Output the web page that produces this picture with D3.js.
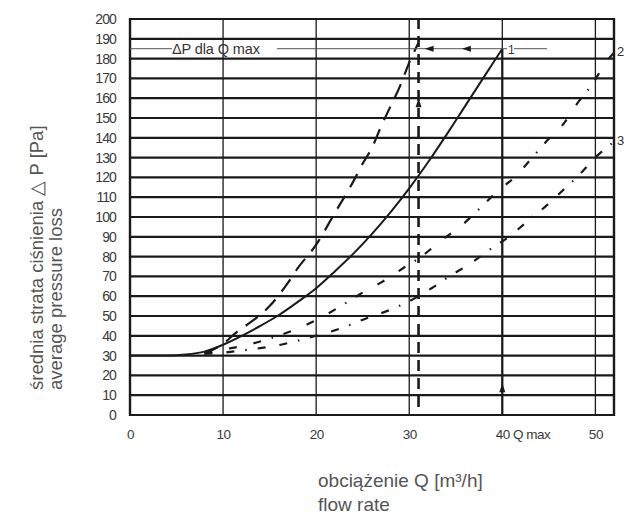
<!DOCTYPE html>
<html><head><meta charset="utf-8">
<script src="https://cdn.jsdelivr.net/npm/d3@7/dist/d3.min.js"></script>
<style>
body{margin:0;background:#fff;}
svg{display:block;font-family:"Liberation Sans",Arial,sans-serif;}
</style></head>
<body>
<svg id="c" width="637" height="518"></svg>
<script>
// ---- data ----
const xTicks = [0, 10, 20, 30, 40, 50];
const xTickLabels = ["0", "10", "20", "30", "40 Q max", "50"];
const yTicks = [0,10,20,30,40,50,60,70,80,90,100,110,120,130,140,150,160,170,180,190,200];

// curve 1 (solid)
const c1Q = [0,2,4,6,8,10,12,14,16,18,20,22,24,26,28,30,32,34,36,38,40];
const c1P = [30,30,30,30.5,32,35.5,40,45,50.5,57,64,72.5,81.5,91.5,102.5,114.5,127.5,141.5,156,170.5,185];
// steep dashed curve
const c2Q = [8,10,11.5,13,15,17,18,20,22,24,25,26,27,28,29,30,31];
const c2P = [31,36,42,47,55,67,74,86,102,118,127,135,146,156,166,178,188];
// dash-dot curve "2"
const cAQ = [8,10,12.7,15.3,18.2,20,22.3,24.7,27,29.3,31.3,33.4,35.7,37.5,39.5,41.3,43.4,44.9,46.4,48,49.8,51.1,52];
const cAP = [31,33,35.5,39,44,48,54,61,67,74,80,88,96,104,113,120,131,139,146,157,168,178,183];
// dash-dot curve "3"
const cBQ = [8,10,12.7,15.7,18.4,20,22.8,25.5,27.9,29.8,32.4,34.3,36.4,38.8,40.7,42.5,44.8,46.4,48.2,50.2,52];
const cBP = [31,31.5,33,35,38,40,44,49,53,57,64,70,76,84,90,97,106,113,121,131,138];

const qMaxQ = 40, qMaxP = 185;   // Q max marker
const qDashQ = 31;               // dashed vertical
const dpLabel = "ΔP dla Q max";

// ---- layout ----
const svg = d3.select("#c");
const x = d3.scaleLinear().domain([0, 52]).range([130, 614]);
const y = d3.scaleLinear().domain([0, 200]).range([415, 19]);
const ink = "#1a1a1a";

// grid
const g = svg.append("g");
g.selectAll("line.h").data(yTicks).join("line")
  .attr("x1", x(0)).attr("x2", x(52))
  .attr("y1", d => y(d)).attr("y2", d => y(d))
  .attr("stroke", ink).attr("stroke-width", 2.2);
g.selectAll("line.v").data(xTicks.filter(d => d > 0)).join("line")
  .attr("x1", d => x(d)).attr("x2", d => x(d))
  .attr("y1", y(0)).attr("y2", y(200))
  .attr("stroke", ink).attr("stroke-width", 1.3);
// frame
g.append("line").attr("x1", x(0)).attr("x2", x(0)).attr("y1", y(0)+1).attr("y2", y(200)-1)
  .attr("stroke", ink).attr("stroke-width", 2.4);
g.append("line").attr("x1", x(52)).attr("x2", x(52)).attr("y1", y(0)+1).attr("y2", y(200)-1)
  .attr("stroke", ink).attr("stroke-width", 2.4);

// axes (labels only)
const yAxis = d3.axisLeft(y).tickValues(yTicks).tickSize(0).tickPadding(14);
const ya = svg.append("g").attr("transform", `translate(${x(0)},0)`).call(yAxis);
ya.select(".domain").remove();
ya.selectAll("text").attr("font-size", 14).attr("fill", "#3a3a3a").attr("letter-spacing", "-0.9")
  .attr("font-family", "'Liberation Sans',Arial,sans-serif");

const xAxis = d3.axisBottom(x).tickValues(xTicks).tickSize(0).tickPadding(14)
  .tickFormat((d, i) => xTickLabels[i]);
const xa = svg.append("g").attr("transform", `translate(0,${y(0)})`).call(xAxis);
xa.select(".domain").remove();
xa.selectAll("text").attr("font-size", 13.5).attr("fill", "#3a3a3a").attr("letter-spacing", "-0.5")
  .attr("font-family", "'Liberation Sans',Arial,sans-serif")
  .filter((d) => d === 40).attr("text-anchor", "start").attr("dx", -7);

// curves
const line = d3.line().x(d => x(d[0])).y(d => y(d[1])).curve(d3.curveMonotoneX);
const zip = (a, b) => a.map((v, i) => [v, b[i]]);
svg.append("path").attr("d", line(zip(c1Q, c1P))).attr("fill", "none")
  .attr("stroke", ink).attr("stroke-width", 2);
svg.append("path").attr("d", line(zip(c2Q, c2P))).attr("fill", "none")
  .attr("stroke", ink).attr("stroke-width", 2.2).attr("stroke-dasharray", "15,10");
svg.append("path").attr("d", line(zip(cAQ, cAP))).attr("fill", "none")
  .attr("stroke", ink).attr("stroke-width", 2.2).attr("stroke-dasharray", "8,17,8,17,8,11,1.5,11");
svg.append("path").attr("d", line(zip(cBQ, cBP))).attr("fill", "none")
  .attr("stroke", ink).attr("stroke-width", 2.2).attr("stroke-dasharray", "8,14,8,11,1.5,11");

// dashed vertical at Q=31
svg.append("line").attr("x1", x(qDashQ)).attr("x2", x(qDashQ))
  .attr("y1", y(4)).attr("y2", y(200))
  .attr("stroke", ink).attr("stroke-width", 2.6).attr("stroke-dasharray", "11,7");

// Q max vertical thick with arrow
svg.append("line").attr("x1", x(qMaxQ)).attr("x2", x(qMaxQ))
  .attr("y1", y(0)).attr("y2", y(qMaxP))
  .attr("stroke", ink).attr("stroke-width", 2.2);
const arrowUp = (cx, cy) => svg.append("path")
  .attr("d", `M${cx},${cy-6} L${cx-3},${cy+3} L${cx+3},${cy+3} Z`).attr("fill", ink);
arrowUp(x(qMaxQ), y(13));
arrowUp(x(qDashQ), y(157));

// ΔP horizontal line
svg.append("line").attr("x1", x(0)).attr("x2", x(4.5)).attr("y1", y(qMaxP)).attr("y2", y(qMaxP))
  .attr("stroke", "#555").attr("stroke-width", 1);
svg.append("line").attr("x1", x(15.8)).attr("x2", x(44.8)).attr("y1", y(qMaxP)).attr("y2", y(qMaxP))
  .attr("stroke", "#555").attr("stroke-width", 1);
const arrowLeft = (cx, cy) => svg.append("path")
  .attr("d", `M${cx-6},${cy} L${cx+3},${cy-3} L${cx+3},${cy+3} Z`).attr("fill", ink);
arrowLeft(x(32.3), y(qMaxP));
arrowLeft(x(36.3), y(qMaxP));
svg.append("text").attr("x", x(4.5)).attr("y", y(qMaxP) + 5).text(dpLabel)
  .attr("font-size", 14.5).attr("fill", "#333").attr("letter-spacing", "-0.1");
svg.append("rect").attr("x", x(40.5)).attr("y", y(qMaxP) - 5).attr("width", 7).attr("height", 10).attr("fill", "#fff");
svg.append("text").attr("x", x(40.6)).attr("y", y(qMaxP) + 5).text("1")
  .attr("font-size", 12).attr("fill", "#333");

// curve labels
svg.append("text").attr("x", 617).attr("y", y(184) + 5).text("2").attr("font-size", 13).attr("fill", "#333");
svg.append("text").attr("x", 617).attr("y", y(139) + 5).text("3").attr("font-size", 13).attr("fill", "#333");

// axis titles
const yt = svg.append("text").attr("font-size", 18.5).attr("fill", "#555");
yt.append("tspan").attr("x", -390).attr("y", 43).text("średnia strata ciśnienia △ P [Pa]");
yt.append("tspan").attr("x", -390).attr("y", 62).text("average pressure loss");
yt.attr("transform", "rotate(-90)");

const xt = svg.append("text").attr("font-size", 19).attr("fill", "#555");
xt.append("tspan").attr("x", 318).attr("y", 487).text("obciążenie Q [m³/h]");
xt.append("tspan").attr("x", 318).attr("y", 511).text("flow rate");
</script>
</body></html>
